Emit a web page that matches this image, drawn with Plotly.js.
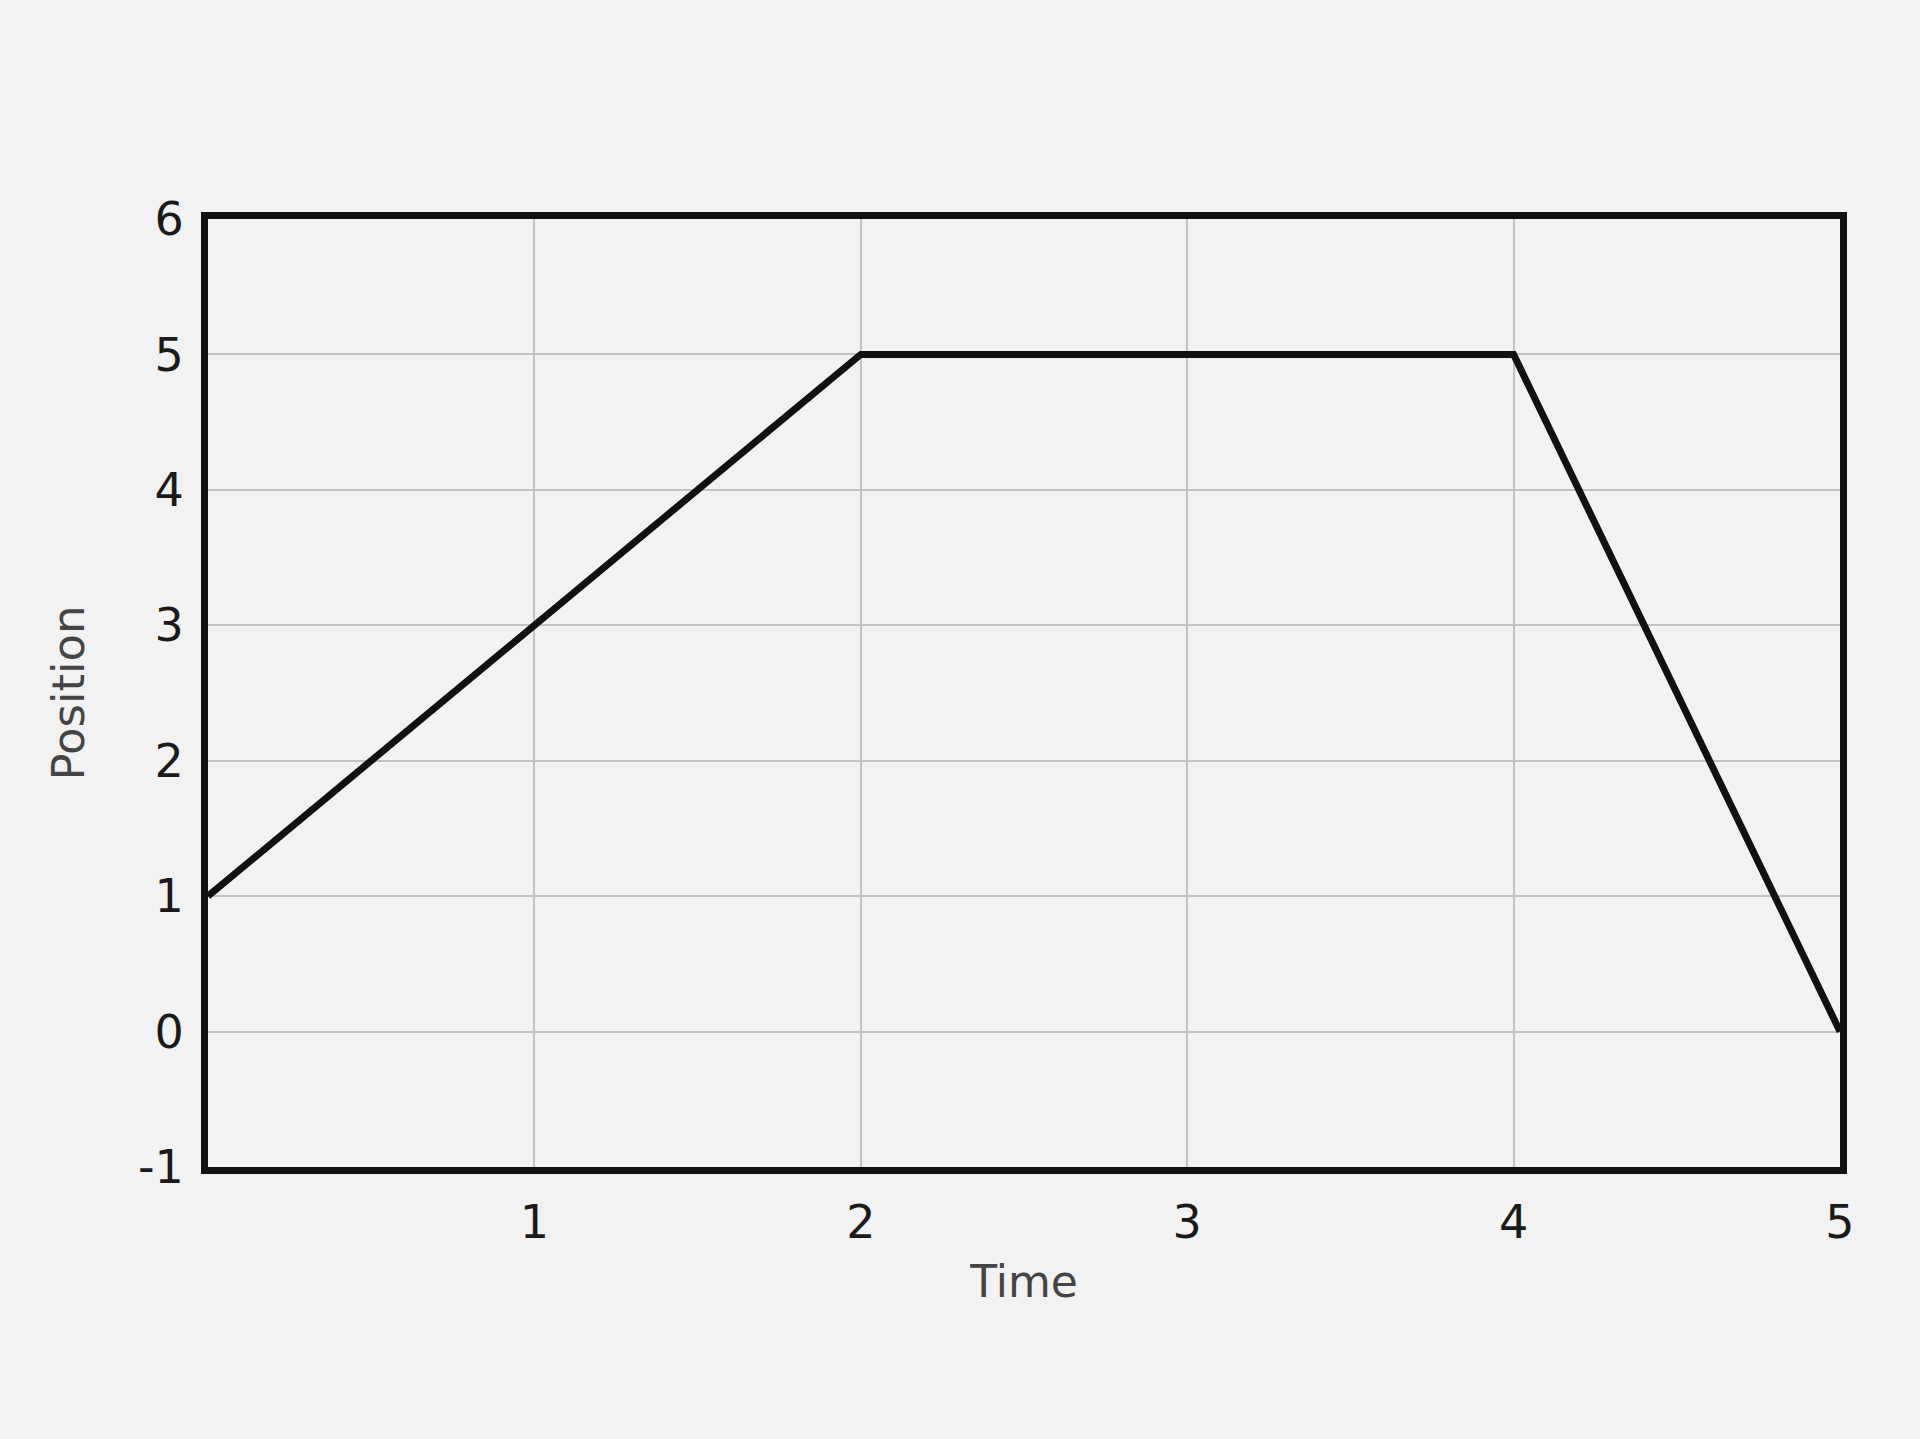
<!DOCTYPE html>
<html>
<head>
<meta charset="utf-8">
<script src="https://cdn.plot.ly/plotly-3.0.1.min.js"></script>
<style>
html,body{margin:0;padding:0;background:#f2f2f2;}
#chart{width:1920px;height:1439px;}
</style>
</head>
<body>
<div id="chart"></div>
<script>
const timeValues = [0, 1, 2, 4, 5];
const positionValues = [1, 3, 5, 5, 0];
const xTickVals = [1, 2, 3, 4, 5];
const xTickText = ["1", "2", "3", "4", "5"];
const yTickVals = [-1, 0, 1, 2, 3, 4, 5, 6];
const yTickText = ["-1", "0", "1", "2", "3", "4", "5", "6"];

const trace = {
  x: timeValues,
  y: positionValues,
  type: 'scatter',
  mode: 'lines',
  line: {color: '#111111', width: 7},
  hoverinfo: 'none'
};

const layout = {
  width: 1920,
  height: 1439,
  paper_bgcolor: '#f2f2f2',
  plot_bgcolor: '#f2f2f2',
  margin: {l: 208, r: 80, t: 219, b: 272},
  showlegend: false,
  font: {family: 'DejaVu Sans, Verdana, sans-serif', color: '#1a1a1a', size: 46},
  xaxis: {
    range: [0, 5],
    tickmode: 'array',
    tickvals: xTickVals,
    ticktext: xTickText,
    ticks: '',
    ticklabelstandoff: 9,
    showgrid: true,
    gridcolor: '#c2c2c2',
    gridwidth: 2,
    zeroline: false,
    showline: true,
    linecolor: '#111111',
    linewidth: 7,
    mirror: true,
    tickfont: {size: 46, color: '#1a1a1a'},
    title: {text: 'Time', font: {size: 44, color: '#444444'}, standoff: 20}
  },
  yaxis: {
    range: [-1, 6],
    tickmode: 'array',
    tickvals: yTickVals,
    ticktext: yTickText,
    ticks: '',
    ticklabelstandoff: 8,
    showgrid: true,
    gridcolor: '#c2c2c2',
    gridwidth: 2,
    zeroline: false,
    showline: true,
    linecolor: '#111111',
    linewidth: 7,
    mirror: true,
    tickfont: {size: 46, color: '#1a1a1a'},
    title: {text: 'Position', font: {size: 45, color: '#444444'}, standoff: 42}
  }
};

Plotly.newPlot('chart', [trace], layout, {staticPlot: true, displayModeBar: false});
</script>
</body>
</html>
